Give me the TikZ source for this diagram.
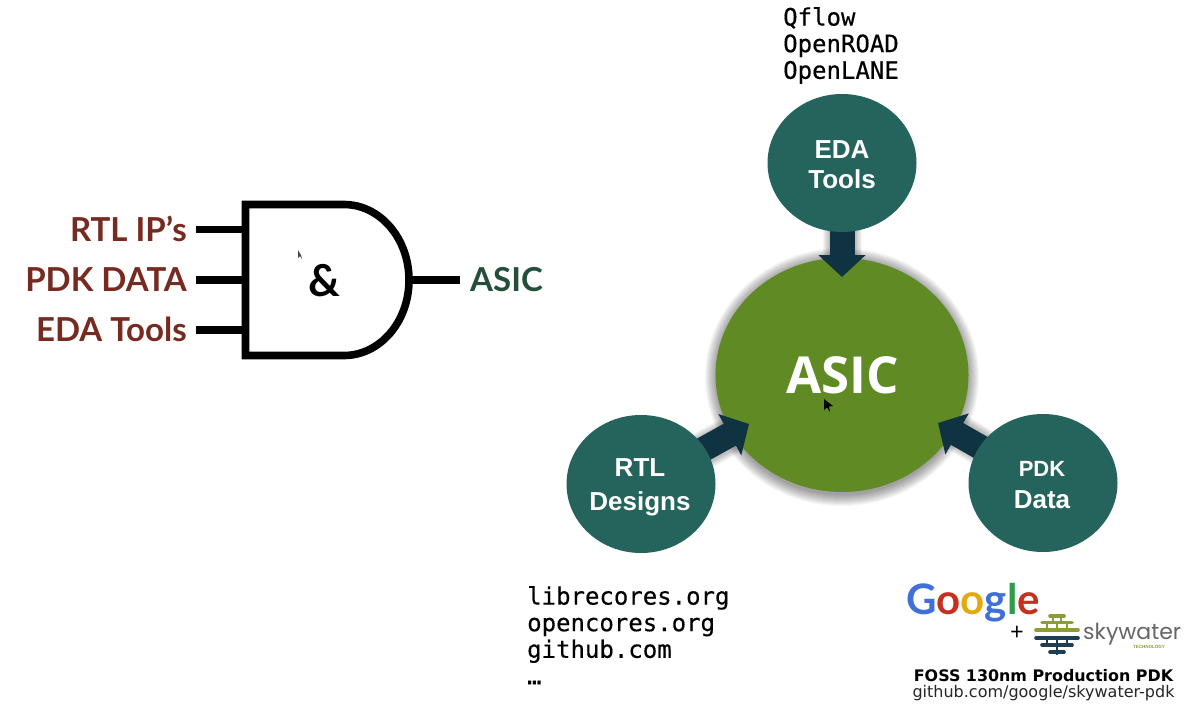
\documentclass[tikz,border=0pt]{standalone}
\usepackage{fontspec}
\setmainfont{Open Sans}
\newfontfamily\arialfont{Liberation Sans}
\newfontfamily\monofont[FakeBold=0.4]{DejaVu Sans Mono}
\newfontfamily\dejavufont{DejaVu Sans}
\newfontfamily\latofont{Lato}
\newfontfamily\poppinsfont{Poppins}
\usetikzlibrary{shapes.geometric,arrows.meta}
\definecolor{rubric}{HTML}{762A20}
\definecolor{asicdark}{HTML}{24503A}
\definecolor{asicgreen}{HTML}{5F8A24}
\definecolor{toolteal}{HTML}{25645C}
\definecolor{arrownavy}{HTML}{0F3340}
\definecolor{skyolive}{HTML}{8A9E34}
\definecolor{skynavy}{HTML}{1C3D52}
\definecolor{gblue}{HTML}{3F6FD8}
\definecolor{gred}{HTML}{C5301F}
\definecolor{gyellow}{HTML}{E5A90F}
\definecolor{ggreen}{HTML}{2F9A48}
\pgfdeclarelayer{under}
\pgfdeclarelayer{bottom}
\pgfsetlayers{bottom,under,main}
\begin{document}
\begin{tikzpicture}[x=1pt,y=-1pt]
\tikzset{
  inlabel/.style={anchor=east, inner xsep=9pt, inner ysep=0pt, text height=23pt, text depth=0pt, text=rubric, font=\fontsize{33}{33}\latofont\bfseries},
  wire/.style={line width=7.6pt},
  tealnoeud/.style={ellipse, fill=toolteal, minimum width=149pt, minimum height=138pt, inner sep=0pt, text=white, align=center},
  fatarrow/.style={line width=25pt, draw=arrownavy, -{Triangle[width=46pt,length=22pt]}},
  monotext/.style={anchor=north west, inner sep=0pt, align=left, font=\fontsize{24}{26.6}\monofont},
  skybar/.style={line width=3.6pt, line cap=round},
  skystem/.style={line width=2.4pt}
}
\useasboundingbox (0,0) rectangle (1197,713);
\draw[wire] (245.5,204.5) -- (344,204.5) arc[start angle=-90, end angle=90, x radius=65, y radius=75.5] -- (245.5,355.5) -- cycle;
\node[inlabel] (rtlip) at (196,229.5) {RTL IP’s};
\node[inlabel] (pdkdata) at (196,280) {PDK DATA};
\node[inlabel] (edatools) at (196,330) {EDA Tools};
\coordinate (in1) at (246,229.5);
\coordinate (in2) at (246,280);
\coordinate (in3) at (246,330);
\coordinate (out) at (410,280);
\node[anchor=west, inner xsep=10pt, inner ysep=0pt, text height=23pt, text depth=0pt, text=asicdark, font=\fontsize{33}{33}\latofont\bfseries] (asiclabel) at (460,280) {ASIC};
\node[font=\fontsize{44}{44}\latofont\bfseries] (amp) at (324,281) {\&};
\draw[wire] (rtlip.east) -- (in1);
\draw[wire] (pdkdata.east) -- (in2);
\draw[wire] (edatools.east) -- (in3);
\draw[wire] (asiclabel.west) -- (out);
\fill[black!70] (298,250) -- (298,258) -- (300,256) -- (302,259) -- (301,255) -- cycle;
\node[tealnoeud] (eda) at (842,163) {};
\node[tealnoeud] (rtl) at (641,484) {};
\node[tealnoeud] (pdk) at (1043,483) {};
\node[text=white, font=\fontsize{26}{30}\arialfont\bfseries, align=center] (edatext) at (842,165) {EDA\\Tools};
\node[text=white, font=\fontsize{26}{34}\arialfont\bfseries, align=center] (rtltext) at (640,487) {RTL\\Designs};
\node[text=white, font=\fontsize{26}{32}\arialfont\bfseries, align=center] (pdktext) at (1042,485) {{\fontsize{22}{32}\selectfont PDK}\\Data};
\begin{pgfonlayer}{bottom}
\fill[white] (0,0) rectangle (1197,713);
\foreach \s in {1,2,...,12} {
  \fill[black, opacity=.035] (842,377) ellipse [x radius=125+\s, y radius=117+\s];
}
\node[ellipse, fill=asicgreen, minimum width=253pt, minimum height=234pt, inner sep=0pt] (asic) at (842,375) {};
\end{pgfonlayer}
\node[text=white, font=\fontsize{51}{51}\selectfont\bfseries] (asictext) at (843,375) {ASIC};
\fill[black] (824,399) -- (824,410) -- (827,407.5) -- (830,412) -- (829,406.5) -- (833,406) -- cycle;
\coordinate (tipeda) at (842,277);
\coordinate (tiprtl) at (749,424);
\coordinate (tippdk) at (938,423);
\begin{pgfonlayer}{under}
\foreach \s in {2,4,...,14} {
  \draw[black, opacity=.04, line width=25pt+\s pt] (eda.center) -- (842,258);
  \draw[black, opacity=.04, line width=25pt+\s pt] (rtl.center) -- (730,436);
  \draw[black, opacity=.04, line width=25pt+\s pt] (pdk.center) -- (958,433);
}
\draw[fatarrow] (eda.center) -- (tipeda);
\draw[fatarrow] (rtl.center) -- (tiprtl);
\draw[fatarrow] (pdk.center) -- (tippdk);
\end{pgfonlayer}
\node[monotext] (flowlist) at (783,7) {Qflow\\OpenROAD\\OpenLANE};
\node[monotext] (corelist) at (527,586) {librecores.org\\opencores.org\\github.com\\…};
\node[anchor=west, inner sep=0pt, text depth=0pt, font=\fontsize{42}{42}\latofont\bfseries] (google) at (906,599) {\textcolor{gblue}{G}\textcolor{gred}{o}\textcolor{gyellow}{o}\textcolor{gblue}{g}\textcolor{ggreen}{l}\textcolor{gred}{e}};
\node[font=\fontsize{24}{24}\selectfont] (plus) at (1017,633) {+};
\draw[skystem, skyolive] (1053,616) -- (1053,622);
\draw[skystem, skyolive] (1061,616) -- (1061,622);
\draw[skystem, skyolive] (1047,622) -- (1047,630);
\draw[skystem, skyolive] (1057,622) -- (1057,630);
\draw[skystem, skyolive] (1067,622) -- (1067,630);
\draw[skystem, skynavy] (1047,638) -- (1047,645);
\draw[skystem, skynavy] (1067,638) -- (1067,645);
\draw[skystem, skynavy] (1057,638) -- (1057,655);
\draw[skybar, skyolive] (1050,616) -- (1064,616);
\draw[skybar, skyolive] (1042,622.5) -- (1072,622.5);
\draw[skybar, skyolive] (1036,630) -- (1078,630);
\draw[skybar, skynavy] (1036,638) -- (1078,638);
\draw[skybar, skynavy] (1042,645) -- (1072,645);
\draw[skybar, skynavy] (1050,652) -- (1064,652);
\node[anchor=west, inner sep=0pt, text=black!60, text depth=0pt, font=\fontsize{22}{22}\poppinsfont] (skywater) at (1083,631) {skywater};
\node[anchor=west, inner sep=0pt, text=skyolive, font=\fontsize{4.5}{5}\arialfont\bfseries] (technology) at (1133,647) {TECHNOLOGY};
\node[anchor=center, inner sep=0pt, font=\fontsize{15.9}{16}\dejavufont\bfseries] (foss) at (1043.5,676) {FOSS 130nm Production PDK};
\node[anchor=center, inner sep=0pt, text=black!85, font=\fontsize{16}{16}\dejavufont] (skyrepo) at (1043.5,693) {github.com/google/skywater-pdk};
\end{tikzpicture}
\end{document}
